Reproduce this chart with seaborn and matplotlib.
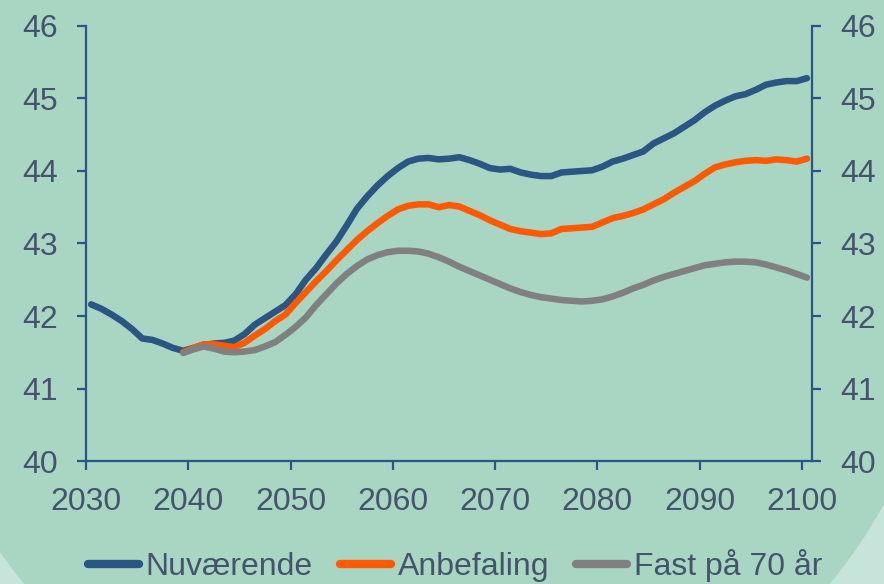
import numpy as np
import pandas as pd
import seaborn as sns
from matplotlib import pyplot as plt
from matplotlib.patches import Circle

# average age
years_now = list(range(2030, 2101))
nuvaerende = [42.16, 42.10, 42.02, 41.93, 41.82, 41.69, 41.67, 41.62, 41.56, 41.52,
              41.56, 41.60, 41.62, 41.63, 41.66, 41.75, 41.88, 41.97, 42.06, 42.15,
              42.30, 42.50, 42.66, 42.85, 43.03, 43.25, 43.48, 43.65, 43.80, 43.93,
              44.04, 44.13, 44.17, 44.18, 44.16, 44.17, 44.19, 44.15, 44.10, 44.04,
              44.02, 44.03, 43.98, 43.95, 43.93, 43.93, 43.98, 43.99, 44.00, 44.01,
              44.06, 44.13, 44.17, 44.22, 44.27, 44.38, 44.45, 44.52, 44.61, 44.70,
              44.81, 44.90, 44.97, 45.03, 45.06, 45.12, 45.19, 45.22, 45.24, 45.24,
              45.28]

years_alt = list(range(2039, 2101))
anbefaling = [41.50,
              41.56, 41.61, 41.61, 41.59, 41.57, 41.63, 41.73, 41.82, 41.93, 42.02,
              42.18, 42.33, 42.48, 42.62, 42.77, 42.91, 43.05, 43.17, 43.28, 43.38,
              43.47, 43.52, 43.54, 43.54, 43.50, 43.53, 43.51, 43.45, 43.39, 43.32,
              43.26, 43.20, 43.17, 43.15, 43.13, 43.14, 43.20, 43.21, 43.22, 43.23,
              43.29, 43.35, 43.38, 43.42, 43.47, 43.54, 43.61, 43.70, 43.78, 43.86,
              43.96, 44.05, 44.09, 44.12, 44.14, 44.15, 44.14, 44.16, 44.15, 44.13,
              44.17]
fast_70 = [41.49,
           41.54, 41.58, 41.55, 41.51, 41.50, 41.51, 41.53, 41.58, 41.64, 41.74,
           41.85, 41.98, 42.15, 42.30, 42.45, 42.58, 42.69, 42.78, 42.84, 42.88,
           42.90, 42.90, 42.89, 42.86, 42.81, 42.75, 42.68, 42.62, 42.56, 42.50,
           42.44, 42.38, 42.33, 42.29, 42.26, 42.24, 42.22, 42.21, 42.20, 42.21,
           42.23, 42.27, 42.32, 42.38, 42.43, 42.49, 42.54, 42.58, 42.62, 42.66,
           42.70, 42.72, 42.74, 42.75, 42.75, 42.74, 42.71, 42.67, 42.63, 42.58,
           42.53]

series_names = ["Nuværende", "Anbefaling", "Fast på 70 år"]
colors = ["#2b5582", "#ff5a00", "#808080"]
y_ticks = [40, 41, 42, 43, 44, 45, 46]
x_ticks = list(range(2030, 2101, 10))

TEXT = "#44546a"
BG_LIGHT = "#c6e4d9"
BG_GREEN = "#a8d6c3"

data = pd.concat([
    pd.DataFrame({"year": years_now, "value": nuvaerende, "series": series_names[0]}),
    pd.DataFrame({"year": years_alt, "value": anbefaling, "series": series_names[1]}),
    pd.DataFrame({"year": years_alt, "value": fast_70, "series": series_names[2]}),
])
# yearly values sit mid-year on the time axis
data["x"] = data["year"] + 0.5

sns.set_style("ticks")
plt.rcParams["font.family"] = ["Liberation Sans", "DejaVu Sans"]

fig = plt.figure(figsize=(8.84, 5.84), dpi=100)
fig.patch.set_facecolor(BG_LIGHT)
fig.add_artist(Circle((4.27, 3.32), 5.22, transform=fig.dpi_scale_trans,
                      facecolor=BG_GREEN, edgecolor="none", zorder=0))

ax = fig.add_axes([0.0973, 0.2106, 0.8213, 0.7449])
ax.set_facecolor("none")

sns.lineplot(data, x="x", y="value", hue="series", hue_order=series_names,
             palette=colors, linewidth=4.7, ax=ax, solid_capstyle="round")

ax.set_xlim(2030, 2101)
ax.set_ylim(40, 46)
ax.set_xticks(x_ticks)
ax.set_yticks(y_ticks)
ax.set_xlabel("")
ax.set_ylabel("")

spine_col = "#2b5582"
for side in ["left", "right", "bottom"]:
    ax.spines[side].set_visible(True)
    ax.spines[side].set_color(spine_col)
    ax.spines[side].set_linewidth(1.6)
ax.spines["top"].set_visible(False)

ax.tick_params(axis="y", which="both", left=True, right=True, labelleft=True, labelright=True,
               direction="out", length=6.5, width=1.6, color=spine_col,
               labelsize=23, labelcolor=TEXT, pad=14)
ax.tick_params(axis="x", direction="out", length=6.5, width=1.6, color=spine_col,
               labelsize=23, labelcolor=TEXT, pad=12)

handles, labels = ax.get_legend_handles_labels()
ax.legend_.remove()
leg = fig.legend(handles, labels, loc="center", bbox_to_anchor=(0.515, 0.032), ncol=3,
                 frameon=False, fontsize=23, handlelength=1.6, handletextpad=0.2,
                 columnspacing=0.85, borderaxespad=0, borderpad=0)
for t in leg.get_texts():
    t.set_color(TEXT)
for h in leg.legend_handles:
    h.set_linewidth(6)
    h.set_solid_capstyle("round")

fig.savefig("out.png", dpi=100, facecolor=fig.get_facecolor())
